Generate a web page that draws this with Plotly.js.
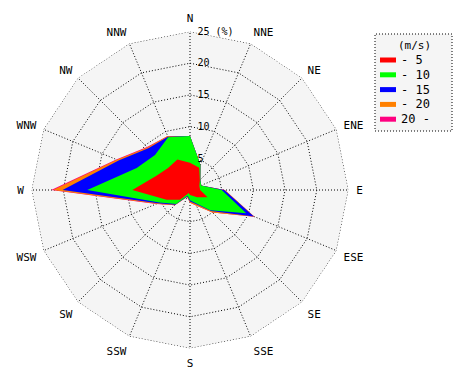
<!DOCTYPE html>
<html>
<head>
<meta charset="utf-8">
<script src="https://cdn.plot.ly/plotly-3.0.1.min.js"></script>
<style>html,body{margin:0;padding:0;background:#fff;}#chart{width:470px;height:380px;}</style>
</head>
<body>
<div id="chart"></div>
<script>
const directions = ["N","NNE","NE","ENE","E","ESE","SE","SSE","S","SSW","SW","WSW","W","WNW","NW","NNW"];
// frequency (%) per speed class, per direction
const speed0to5   = [4.3, 3.8, 2.2, 1.6, 1.6, 3.0, 1.6, 1.0, 0.8, 0.5, 2.2, 4.0, 9.1, 5.8, 4.9, 5.2];
const speed5to10  = [4.2, 0.5, 0.1, 0.3, 3.4, 6.6, 2.9, 1.2, 0.8, 0.5, 0.9, 1.2, 7.1, 3.3, 2.9, 3.8];
const speed10to15 = [0.0, 0.0, 0.0, 0.0, 0.4, 1.3, 0.2, 0.2, 0.2, 0.1, 0.2, 0.3, 3.9, 3.1, 1.5, 0.1];
const speed15to20 = [0.0, 0.0, 0.0, 0.0, 0.1, 0.1, 0.3, 0.3, 0.2, 0.1, 0.1, 0.2, 1.5, 0.3, 0.2, 0.1];
const speed20up   = [0.0, 0.0, 0.0, 0.0, 0.0, 0.0, 0.0, 0.0, 0.0, 0.0, 0.0, 0.1, 0.3, 0.1, 0.1, 0.0];
const classNames  = ["- 5", "- 10", "- 15", "- 20", "20 -"];
const classColors = ["#ff0000", "#00ff00", "#0000ff", "#ff8000", "#ff0080"];
const legendTitle = "(m/s)";
const radialTicks = [5, 10, 15, 20, 25];
const radialTickText = ["5", "10", "15", "20", "25 (%)"];
const radialMax = 25;

const series = [speed0to5, speed5to10, speed10to15, speed15to20, speed20up];
const cumulative = [];
let running = directions.map(() => 0);
series.forEach(s => { running = running.map((v, i) => v + s[i]); cumulative.push(running.slice()); });

const DOT = "1px,2px";
const closedTheta = directions.concat([directions[0]]);
const traces = [];
for (let k = series.length - 1; k >= 0; k--) {
  traces.push({
    type: "scatterpolar", mode: "lines", r: cumulative[k].concat([cumulative[k][0]]), theta: closedTheta,
    fill: "toself", fillcolor: classColors[k],
    line: {color: classColors[k], width: 0},
    name: classNames[k], hoverinfo: "skip", showlegend: false
  });
}
// dotted outer frame at the axis maximum
traces.push({
  type: "scatterpolar", mode: "lines", r: closedTheta.map(() => radialMax), theta: closedTheta,
  line: {color: "#000", width: 1, dash: DOT}, hoverinfo: "skip", showlegend: false, cliponaxis: false
});

const W = 470, H = 380, cx = 190, cy = 190, R = 158.5;
const px = x => x / W, py = y => 1 - y / H;

// hand-made legend (shapes + text annotations) to match the compact original
const shapes = [{type: "rect", xref: "paper", yref: "paper", x0: px(375), x1: px(452), y0: py(131), y1: py(34),
  line: {color: "#000", width: 1, dash: DOT}, fillcolor: "#f5f5f5", layer: "below"}];
const annotations = [{xref: "paper", yref: "paper", x: px(414), y: py(45), text: legendTitle, showarrow: false,
  xanchor: "center", yanchor: "middle", font: {size: 11, family: "DejaVu Sans Mono, monospace"}}];
classNames.forEach((nm, i) => {
  const yc = 60 + i * 14.8;
  shapes.push({type: "rect", xref: "paper", yref: "paper", x0: px(380), x1: px(396), y0: py(yc + 2.5), y1: py(yc - 2.5),
    line: {width: 0}, fillcolor: classColors[i]});
  annotations.push({xref: "paper", yref: "paper", x: px(399), y: py(yc), text: nm, showarrow: false,
    xanchor: "left", yanchor: "middle", font: {size: 12, family: "DejaVu Sans Mono, monospace"}});
});

const layout = {
  width: W, height: H, margin: {l: 0, r: 0, t: 0, b: 0},
  paper_bgcolor: "#ffffff",
  font: {family: "DejaVu Sans Mono, monospace", size: 10, color: "#000"},
  showlegend: false,
  shapes: shapes, annotations: annotations,
  polar: {
    domain: {x: [(cx - R)/W, (cx + R)/W], y: [1 - (cy + R)/H, 1 - (cy - R)/H]},
    bgcolor: "#f5f5f5",
    gridshape: "linear",
    angularaxis: {
      type: "category", categoryarray: directions, direction: "clockwise", rotation: 90,
      showgrid: true, gridcolor: "#000", gridwidth: 1, griddash: DOT,
      showline: false, ticks: "outside", ticklen: 5, tickcolor: "rgba(0,0,0,0)",
      tickfont: {size: 11, family: "DejaVu Sans Mono, monospace"}
    },
    radialaxis: {
      range: [0, radialMax], tickvals: radialTicks, ticktext: radialTickText,
      showgrid: true, gridcolor: "#000", gridwidth: 1, griddash: DOT,
      showline: false, ticks: "outside", ticklen: 5, tickcolor: "rgba(0,0,0,0)",
      angle: 90, tickangle: 90, side: "clockwise",
      tickfont: {size: 10, family: "DejaVu Sans Mono, monospace"}
    }
  }
};
Plotly.newPlot("chart", traces, layout, {staticPlot: true});
</script>
</body>
</html>
